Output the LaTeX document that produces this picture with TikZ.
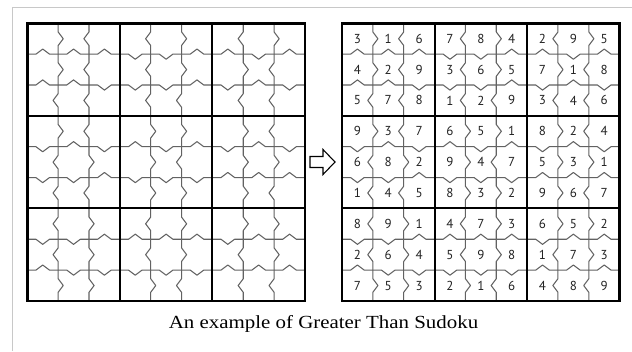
\documentclass[tikz,border=0pt]{standalone}
\usepackage{fontspec}
\setmainfont{Liberation Serif}
\newfontfamily\digitfont{PT Sans}
\definecolor{thingray}{HTML}{626262}
\definecolor{framegray}{HTML}{C8C8C8}
\definecolor{digitcol}{HTML}{222222}
\def\sol{{3,1,6,7,8,4,2,9,5,4,2,9,3,6,5,7,1,8,5,7,8,1,2,9,3,4,6,9,3,7,6,5,1,8,2,4,6,8,2,9,4,7,5,3,1,1,4,5,8,3,2,9,6,7,8,9,1,4,7,3,6,5,2,2,6,4,5,9,8,1,7,3,7,5,3,2,1,6,4,8,9}}
\def\cs{30.85}
\def\yo{23.3}
\def\bw{0.28}
\def\bh{0.165}
\tikzset{
  thinline/.style={draw=thingray, line width=1.05pt, line join=round},
  boxline/.style={draw=black, line width=2pt},
  outerline/.style={draw=black, line width=2.4pt},
  digit/.style={font=\digitfont\fontsize{13}{14}\selectfont, text=digitcol, inner sep=0pt},
  framel/.style={draw=framegray, line width=1pt},
  bigarrow/.style={draw=black, line width=1.1pt, fill=white, line join=miter},
  caption/.style={font=\fontsize{18.5}{20}\selectfont, inner sep=0pt}
}
\newcommand\gtsborders[1]{%
  \foreach \c in {1,2,4,5,7,8}{
    \foreach \r in {0,...,8}{
      \pgfmathtruncatemacro\iL{\r*9+\c-1}
      \pgfmathtruncatemacro\iR{\r*9+\c}
      \pgfmathtruncatemacro\vL{\sol[\iL]}
      \pgfmathtruncatemacro\vR{\sol[\iR]}
      \pgfmathsetmacro\dd{\vL>\vR ? 1 : -1}
      \path[thinline] ({#1+\c*\cs},{\yo+\r*\cs}) -- ++(0,{\bw*\cs})
        -- ({#1+\c*\cs+\dd*\bh*\cs},{\yo+(\r+0.5)*\cs})
        -- ({#1+\c*\cs},{\yo+(\r+1-\bw)*\cs}) -- ({#1+\c*\cs},{\yo+(\r+1)*\cs});
    }
  }
  \foreach \r in {1,2,4,5,7,8}{
    \foreach \c in {0,...,8}{
      \pgfmathtruncatemacro\iT{(\r-1)*9+\c}
      \pgfmathtruncatemacro\iB{\r*9+\c}
      \pgfmathtruncatemacro\vT{\sol[\iT]}
      \pgfmathtruncatemacro\vB{\sol[\iB]}
      \pgfmathsetmacro\dd{\vT<\vB ? -1 : 1}
      \path[thinline] ({#1+\c*\cs},{\yo+\r*\cs}) -- ++({\bw*\cs},0)
        -- ({#1+(\c+0.5)*\cs},{\yo+\r*\cs+\dd*\bh*\cs})
        -- ({#1+(\c+1-\bw)*\cs},{\yo+\r*\cs}) -- ({#1+(\c+1)*\cs},{\yo+\r*\cs});
    }
  }
  \foreach \k in {3,6}{
    \path[boxline] ({#1+\k*\cs},{\yo}) -- ({#1+\k*\cs},{\yo+9*\cs});
    \path[boxline] ({#1},{\yo+\k*\cs}) -- ({#1+9*\cs},{\yo+\k*\cs});
  }
  \path[outerline] ({#1},{\yo}) rectangle ({#1+9*\cs},{\yo+9*\cs});
}
\begin{document}
\begin{tikzpicture}[x=1pt,y=-1pt]
\useasboundingbox (0,0) rectangle (632,351);
\fill[white] (0,0) rectangle (632,351);
% frame
\coordinate (fbl) at (12,351);
\coordinate (ftl) at (12,7);
\coordinate (ftr) at (632,7);
\path[framel] (fbl) -- (ftl) -- (ftr);
% left empty puzzle
\gtsborders{27.3}
% right solved puzzle
\gtsborders{342}
\foreach \r in {0,...,8}{
  \foreach \c in {0,...,8}{
    \pgfmathtruncatemacro\ii{\r*9+\c}
    \pgfmathtruncatemacro\vv{\sol[\ii]}
    \node[digit] (d-\r-\c) at ({342+(\c+0.5)*\cs},{\yo+(\r+0.5)*\cs}) {\vv};
  }
}
% arrow
\path[bigarrow] (310,156.5) -- (323,156.5) -- (323,149.5) -- (335,162) -- (323,174.5) -- (323,167.5) -- (310,167.5) -- cycle;
% caption
\node[caption] (cap) at (323.5,324) {\scalebox{1.13}[1]{An example of Greater Than Sudoku}};
\end{tikzpicture}
\end{document}
